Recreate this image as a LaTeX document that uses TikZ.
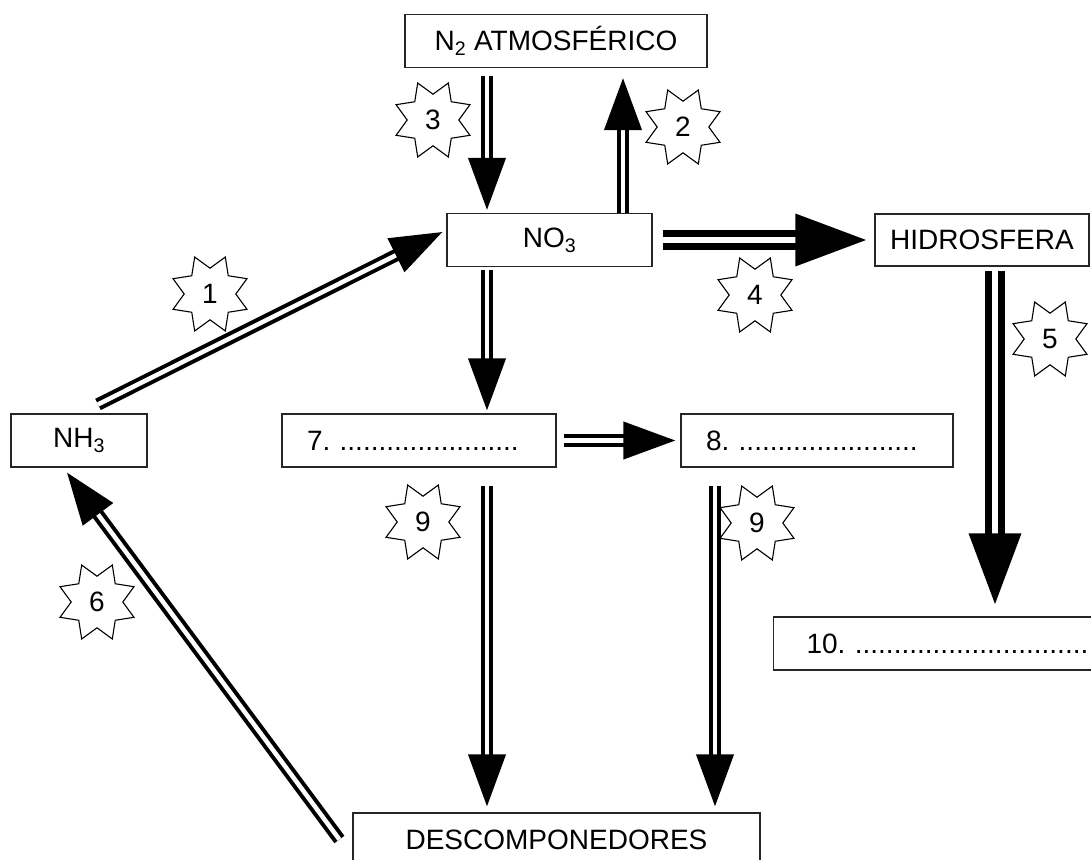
\documentclass[tikz,border=0pt]{standalone}
\usepackage{fontspec}
\setmainfont{Liberation Sans}
\usetikzlibrary{arrows.meta,shapes.geometric}

\begin{document}
\begin{tikzpicture}
	[
		x=1pt, y=-1pt,
		every node/.style = {font=\fontsize{28}{32}\selectfont},
		box/.style = {shape=rectangle, draw=black!85, line width=1.2pt, minimum height=53pt, inner sep=0pt, anchor=center},
		blank/.style = {box, align=left, inner xsep=25pt},
		burst/.style = {shape=star, star points=8, star point ratio=1.55, shape border rotate=22.5, draw, line width=1.1pt, minimum size=80pt, inner sep=0pt},
		flow/.style = {draw, double=white, double distance=4.5pt, line width=4pt, -{Triangle[length=52pt, width=37pt]}},
		bigflow/.style = {draw, double=white, double distance=6pt, line width=7pt, -{Triangle[length=71pt, width=51pt]}}
	]
	
	\useasboundingbox (0,0) rectangle (1091,859);
	
	\node [box, minimum width=302pt] (n2) at (556, 41) {N\textsubscript{2} ATMOSFÉRICO};
	\node [box, minimum width=205pt] (no3) at (549.5, 240) {NO\textsubscript{3}};
	\node [box, minimum width=214pt, minimum height=52pt] (hidro) at (982, 240) {HIDROSFERA};
	\node [box, minimum width=136pt] (nh3) at (79, 440.5) {NH\textsubscript{3}};
	\node [blank, text width=224pt] (b7) at (419, 440.5) {7.\,\,.......................};
	\node [blank, text width=222pt] (b8) at (817, 440.5) {8.\,\,.......................};
	\node [blank, text width=320pt, inner xsep=33pt, anchor=west] (b10) at (773, 643.5) {10.\,\,..............................};
	\node [box, minimum width=407pt] (desc) at (556.5, 839.5) {DESCOMPONEDORES};
	
	\draw [flow] ([xshift=19pt, yshift=9pt]nh3.north) -- ([xshift=-4pt, yshift=8pt]no3.west);
	\draw [flow] ([xshift=73.5pt]no3.north) -- ([xshift=67pt, yshift=-10pt]n2.south);
	\draw [flow] ([xshift=-69pt, yshift=-8pt]n2.south) -- ([xshift=-62.5pt, yshift=3pt]no3.north);
	\draw [bigflow] ([xshift=10pt]no3.east) -- ([xshift=-8pt]hidro.west);
	\draw [bigflow] ([xshift=13pt, yshift=-4pt]hidro.south) -- ([xshift=222pt, yshift=12pt]b10.north west);
	\draw [flow] ([xshift=-13pt]desc.west) -- ([xshift=-12pt, yshift=-5pt]nh3.south);
	\draw [flow] ([xshift=-62.5pt, yshift=-3pt]no3.south) -- ([xshift=68pt, yshift=3pt]b7.north);
	\draw [flow] ([xshift=7pt]b7.east) -- ([xshift=-5pt]b8.west);
	\draw [flow] ([xshift=68pt, yshift=-18pt]b7.south) -- ([xshift=-69.5pt, yshift=6pt]desc.north);
	\draw [flow] ([xshift=-102pt, yshift=-18pt]b8.south) -- ([xshift=158.5pt, yshift=6pt]desc.north);
	
	\node [burst] (s1) at (210, 294) {1};
	\node [burst] (s2) at (683, 127) {2};
	\node [burst] (s3) at (433, 120) {3};
	\node [burst] (s4) at (755, 295) {4};
	\node [burst] (s5) at (1050, 339) {5};
	\node [burst] (s6) at (97, 602) {6};
	\node [burst] (s9a) at (423, 522) {9};
	\node [burst] (s9b) at (757, 523) {9};
	
\end{tikzpicture}
\end{document}
